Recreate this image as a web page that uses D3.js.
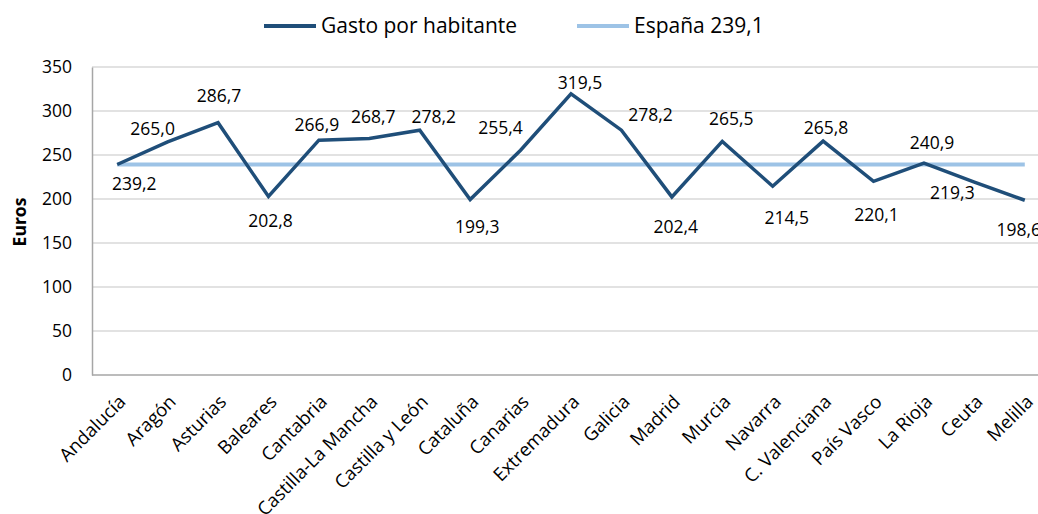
<!DOCTYPE html>
<html lang="es">
<head>
<meta charset="UTF-8">
<title>Gasto por habitante</title>
<style>
  body { margin: 0; background: #fff; }
  text { font-family: "Open Sans", sans-serif; fill: #000; }
</style>
</head>
<body>
<div id="chart"></div>
<script src="https://d3js.org/d3.v7.min.js"></script>
<script>
// Data
var regions = ["Andalucía", "Aragón", "Asturias", "Baleares", "Cantabria", "Castilla-La Mancha",
    "Castilla y León", "Cataluña", "Canarias", "Extremadura", "Galicia", "Madrid", "Murcia",
    "Navarra", "C. Valenciana", "País Vasco", "La Rioja", "Ceuta", "Melilla"];
var gasto = [239.2, 265.0, 286.7, 202.8, 266.9, 268.7, 278.2, 199.3, 255.4, 319.5,
    278.2, 202.4, 265.5, 214.5, 265.8, 220.1, 240.9, 219.3, 198.6];
var espana = 239.1;
var yTicks = [0, 50, 100, 150, 200, 250, 300, 350];

// label placement relative to each point (hand placed in the original)
var labelOffsets = [[17, 19], [-15, -13], [1, -27], [2, 24], [-2, -15], [4, -22], [14, -13],
    [7, 27], [-20, -22], [9, -11], [29, -15], [4, 30], [9, -22], [14, 32], [3, -13],
    [3, 34], [8, -20], [-22, 11], [-6, 30]];

var width = 1038, height = 514;
var plotLeft = 92, plotRight = 1050, plotTop = 67, plotBottom = 375;

var svg = d3.select("#chart").append("svg")
    .attr("width", width)
    .attr("height", height);

var x = d3.scalePoint()
    .domain(regions)
    .range([plotLeft, plotRight])
    .padding(0.5);

var y = d3.scaleLinear()
    .domain([0, 350])
    .range([plotBottom, plotTop]);

var fmt = function(v) { return d3.format(".1f")(v).replace(".", ","); };

// gridlines
svg.append("g")
    .selectAll("line")
    .data(yTicks.filter(function(d) { return d > 0; }))
    .enter().append("line")
    .attr("x1", plotLeft).attr("x2", plotRight)
    .attr("y1", function(d) { return y(d); })
    .attr("y2", function(d) { return y(d); })
    .attr("stroke", "#d9d9d9")
    .attr("stroke-width", 1.5);

// y axis
var yAxis = svg.append("g")
    .attr("transform", "translate(" + plotLeft + ",0)")
    .call(d3.axisLeft(y).tickValues(yTicks).tickSize(0).tickPadding(20));
yAxis.select(".domain").attr("stroke", "#a6a6a6").attr("stroke-width", 1.5);
yAxis.selectAll("text").style("font-size", "17.5px").attr("font-family", null);

// x axis
var xAxis = svg.append("g")
    .attr("transform", "translate(0," + plotBottom + ")")
    .call(d3.axisBottom(x).tickSize(0).tickSizeOuter(0));
xAxis.select(".domain").attr("d", "M" + plotLeft + ",0H" + plotRight)
    .attr("stroke", "#a6a6a6").attr("stroke-width", 1.5);
xAxis.selectAll("text")
    .attr("font-family", null)
    .style("font-size", "18.5px")
    .style("text-anchor", "end")
    .attr("dy", null)
    .attr("y", 0)
    .attr("transform", "translate(9,28) rotate(-45)");

// y title
svg.append("text")
    .attr("transform", "translate(26,222) rotate(-90)")
    .attr("text-anchor", "middle")
    .style("font-size", "17.5px")
    .style("font-weight", "bold")
    .text("Euros");

// España line
svg.append("line")
    .attr("x1", x(regions[0]))
    .attr("x2", x(regions[regions.length - 1]))
    .attr("y1", y(espana))
    .attr("y2", y(espana))
    .attr("stroke", "#9dc3e6")
    .attr("stroke-width", 4);

// Gasto line
var line = d3.line()
    .x(function(d, i) { return x(regions[i]); })
    .y(function(d) { return y(d); });

svg.append("path")
    .datum(gasto)
    .attr("d", line)
    .attr("fill", "none")
    .attr("stroke", "#1f4e79")
    .attr("stroke-width", 3.5)
    .attr("stroke-linejoin", "miter");

// data labels
svg.append("g")
    .selectAll("text")
    .data(gasto)
    .enter().append("text")
    .attr("x", function(d, i) { return x(regions[i]) + labelOffsets[i][0]; })
    .attr("y", function(d, i) { return y(d) + labelOffsets[i][1]; })
    .attr("dy", "0.35em")
    .attr("text-anchor", "middle")
    .style("font-size", "17.5px")
    .text(fmt);

// legend
var legend = svg.append("g");
var items = [
    { label: "Gasto por habitante", color: "#1f4e79", x: 264 },
    { label: "España " + fmt(espana), color: "#9dc3e6", x: 577 }
];
items.forEach(function(it) {
    legend.append("line")
        .attr("x1", it.x).attr("x2", it.x + 52)
        .attr("y1", 26).attr("y2", 26)
        .attr("stroke", it.color)
        .attr("stroke-width", 4);
    legend.append("text")
        .attr("x", it.x + 57)
        .attr("y", 26)
        .attr("dy", "0.35em")
        .style("font-size", "21px")
        .text(it.label);
});
</script>
</body>
</html>
